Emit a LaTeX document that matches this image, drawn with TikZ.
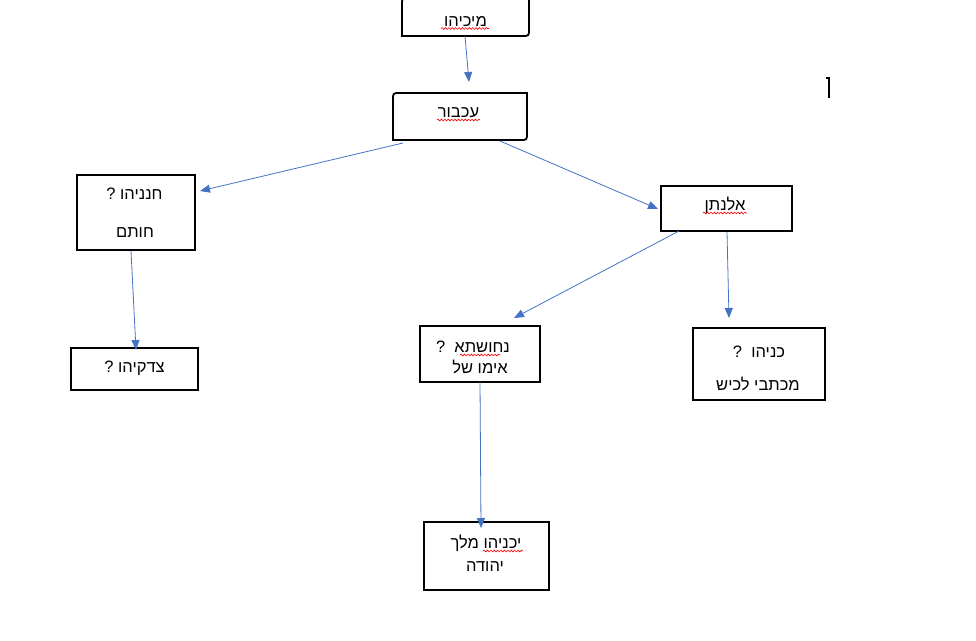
\documentclass[tikz,border=0pt]{standalone}
\usepackage{fontspec}
\newfontfamily\hebfont[Script=Hebrew]{Liberation Sans}
\TeXXeTstate=1
\usetikzlibrary{arrows.meta,calc,decorations.pathmorphing}
\tikzset{
  box/.style={draw=none, minimum width=#1, inner sep=0pt, outer sep=0pt},
  txt/.style={anchor=base, inner sep=0pt, outer sep=0pt,
    font=\hebfont\fontsize{16.5}{19.8}\selectfont},
  frame/.style={draw=black, line width=1.8pt},
  conn/.style={draw={rgb,255:red,68;green,114;blue,196}, line width=0.8pt,
    -{Triangle[length=10pt,width=8pt]}},
  squig/.style={draw=red, line width=0.6pt, decorate,
    decoration={snake, segment length=3.4pt, amplitude=0.9pt}}
}
\newcommand{\HR}[1]{\beginR #1\endR}
\begin{document}
\begin{tikzpicture}[x=1pt,y=-1pt]
\useasboundingbox (0,0) rectangle (976,640);
% boxes
\node[box=127pt, minimum height=38pt] (mic) at (465.5,17) {};
\node[box=134pt, minimum height=47pt] (akh) at (460,116.5) {};
\node[box=118pt, minimum height=75pt] (han) at (136,212.5) {};
\node[box=127pt, minimum height=42pt] (zed) at (134.5,369) {};
\node[box=131pt, minimum height=45pt] (eln) at (726.5,208.5) {};
\node[box=120pt, minimum height=56pt] (neh) at (480,354) {};
\node[box=132pt, minimum height=72pt] (kon) at (759,364) {};
\node[box=125pt, minimum height=68pt] (jec) at (486.5,556) {};
% texts
\node[txt] (micT) at (465.5,26) {\HR{מיכיהו}};
\node[txt] (akhT) at (458.5,117) {\HR{עכבור}};
\node[txt] (hanT1) at (134.5,199) {\HR{חנניהו ?}};
\node[txt] (hanT2) at (135,237) {\HR{חותם}};
\node[txt] (zedT) at (134.5,372) {\HR{צדקיהו ?}};
\node[txt] (elnT) at (725,210) {\HR{אלנתן}};
\node[txt] (nehT1) at (473,352) {\HR{נחושתא\ \ ?}};
\node[txt] (nehT2) at (480,373) {\HR{אימו של}};
\node[txt] (konT1) at (759,357) {\HR{כניהו\ \ ?}};
\node[txt] (konT2) at (758,390) {\HR{מכתבי לכיש}};
\node[txt] (jecT1) at (486,548) {\HR{יכניהו מלך}};
\node[txt] (jecT2) at (485,571) {\HR{יהודה}};
% frames: rounded top-left and bottom-right
\foreach \n in {mic,akh}{
  \draw[frame] (\n.south west) -- ($(\n.north west)+(0,7)$)
    .. controls (\n.north west) .. ($(\n.north west)+(7,0)$)
    -- (\n.north east) -- ($(\n.south east)+(0,-7)$)
    .. controls (\n.south east) .. ($(\n.south east)+(-7,0)$) -- cycle;
}
\foreach \n in {han,zed,eln,neh,kon,jec}{
  \draw[frame] (\n.south west) rectangle (\n.north east);
}
% connectors
\draw[conn] ($(mic.south)+(-0.5,0)$) -- ($(akh.north)+(9,-11)$);
\draw[conn] ($(akh.south west)+(10,3)$) -- ($(han.east)+(5,-21.5)$);
\draw[conn] ($(akh.south)+(40,1)$) -- ($(eln.west)+(-3,0.5)$);
\draw[conn] ($(han.south)+(-5,1)$) -- ($(zed.north)+(1.5,2)$);
\draw[conn] ($(eln.south)+(-47.5,0)$) -- ($(neh.north)+(34,-8)$);
\draw[conn] ($(eln.south)+(0.5,1)$) -- ($(kon.north)+(-30,-10)$);
\draw[conn] (neh.south) -- ($(jec.north)+(-5.5,6)$);
% spelling squiggles
\draw[squig] (441,28.5) -- (489,28.5);
\draw[squig] (437,120) -- (480,120);
\draw[squig] (703,213) -- (747,213);
\draw[squig] (460,355) -- (500,355);
\draw[squig] (483,551) -- (523,551);
% stray mark
\draw[line width=1.4pt] (826,78) -- (829,78) -- (829,98);
\end{tikzpicture}
\end{document}
